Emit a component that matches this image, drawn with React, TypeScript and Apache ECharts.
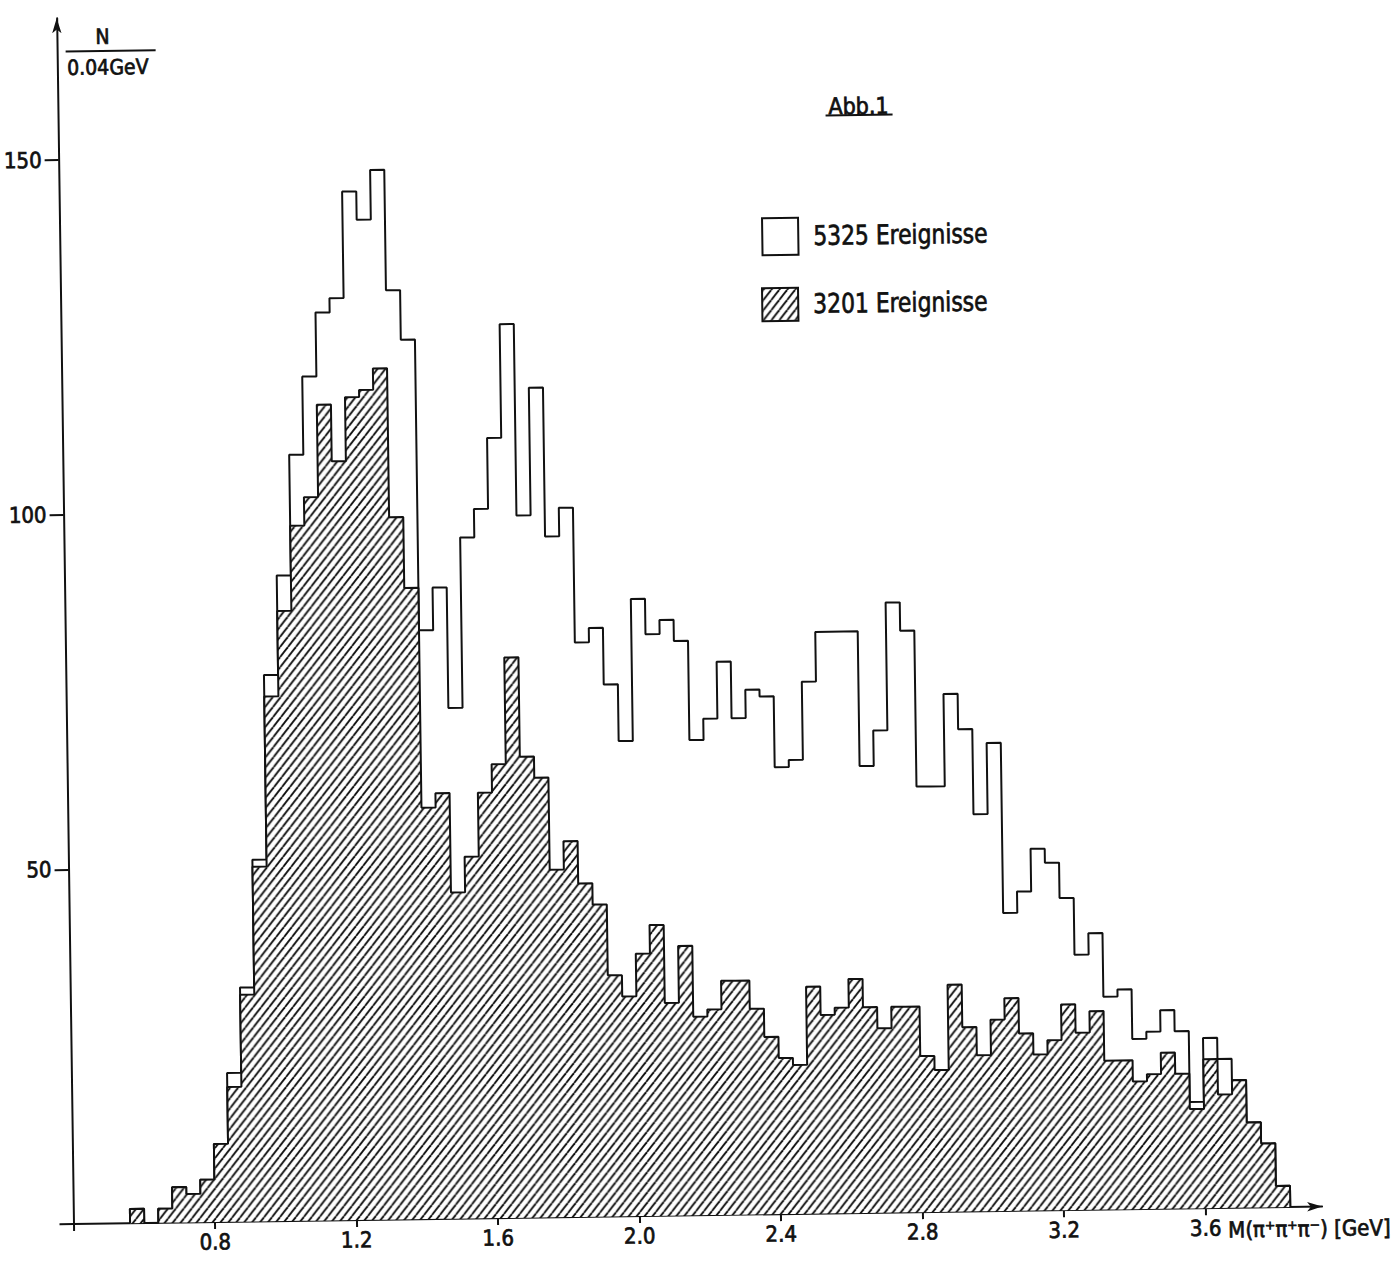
import React, { useEffect, useRef } from "react";
import * as echarts from "echarts";

// Histogram bins: lower edge of first bin and bin width (GeV)
const BIN_START = 0.56;
const BIN_WIDTH = 0.04;

// All events (open histogram, 5325 Ereignisse), counts per 0.04 GeV bin
const totalCounts = [
  2, 0, 2, 5, 4, 6, 11, 21, 33, 51,
  77, 91, 108, 119, 128, 130, 145, 141, 148, 131,
  124, 83, 89, 72, 96, 100, 110, 126, 99, 117,
  96, 100, 81, 83, 75, 67, 87, 82, 84, 81,
  67, 70, 78, 70, 74, 73, 63, 64, 75, 82,
  82, 82, 63, 68, 86, 82, 60, 60, 73, 68,
  56, 66, 42, 45, 51, 49, 44, 36, 39, 30,
  31, 24, 25, 28, 25, 15, 24, 21, 18, 12,
  9, 3,
];

// Selected events (hatched histogram, 3201 Ereignisse)
const subsetCounts = [
  2, 0, 2, 5, 4, 6, 11, 19, 32, 50,
  74, 86, 98, 102, 115, 107, 116, 117, 120, 99,
  89, 58, 60, 46, 51, 60, 64, 79, 65, 62,
  49, 53, 47, 44, 34, 31, 37, 41, 30, 38,
  28, 29, 33, 33, 29, 25, 22, 21, 32, 28,
  29, 33, 29, 26, 29, 29, 22, 20, 32, 26,
  22, 27, 30, 25, 22, 24, 29, 25, 28, 21,
  21, 18, 19, 22, 19, 14, 21, 16, 18, 12,
  9, 3,
];

const xTickValues = [0.4, 0.8, 1.2, 1.6, 2.0, 2.4, 2.8, 3.2, 3.6];
const xLabelValues = [0.8, 1.2, 1.6, 2.0, 2.4, 2.8, 3.2, 3.6];
const yTickValues = [0, 50, 100, 150];
const yLabelValues = [50, 100, 150];
const legendLabels = ["5325 Ereignisse", "3201 Ereignisse"];
const figureLabel = "Abb.1";
const yUnitNumerator = "N";
const yUnitDenominator = "0.04GeV";
const xQuantity = "M(π⁺π⁺π⁻)";
const xUnit = "[GeV]";

const FONT = "'DejaVu Sans Condensed', 'DejaVu Sans', sans-serif";
const INK = "#111";

function toSteps(counts: number[]): number[][] {
  const pts: number[][] = [[BIN_START, 0]];
  counts.forEach((c, i) => {
    pts.push([+(BIN_START + i * BIN_WIDTH).toFixed(4), c]);
  });
  const end = +(BIN_START + counts.length * BIN_WIDTH).toFixed(4);
  pts.push([end, counts[counts.length - 1]]);
  pts.push([end, 0]);
  return pts;
}

function makeHatchCanvas(): HTMLCanvasElement {
  const w = 8;
  const h = 10;
  const c = document.createElement("canvas");
  c.width = w;
  c.height = h;
  const ctx = c.getContext("2d")!;
  ctx.fillStyle = "#fff";
  ctx.fillRect(0, 0, w, h);
  ctx.strokeStyle = "#111";
  ctx.lineWidth = 1.9;
  for (const off of [-w, 0, w]) {
    ctx.beginPath();
    ctx.moveTo(off, h);
    ctx.lineTo(off + w, 0);
    ctx.stroke();
  }
  return c;
}

function textStyle(text: string, size: number, align: string) {
  return {
    text,
    fontSize: size,
    fontFamily: FONT,
    fill: INK,
    stroke: INK,
    lineWidth: 0.7,
    align,
    verticalAlign: "middle",
  };
}

export default function App() {
  const ref = useRef<HTMLDivElement>(null);

  useEffect(() => {
    const el = ref.current;
    if (!el) return;
    const chart = echarts.init(el, undefined, { renderer: "svg" });
    const hatch = makeHatchCanvas();
    const pattern: any = {
      image: hatch,
      repeat: "repeat",
      imageWidth: hatch.width,
      imageHeight: hatch.height,
    };

    const X0 = 73.5; // pixel of x = 0.4
    const Y0 = 1224; // pixel of y = 0
    const PX_PER_GEV = 353.75;
    const PX_PER_COUNT = 7.0933;
    const xMin = 0.4;
    const xMax = 3.93;
    const yMax = 170;

    const axisLineStyle = { color: INK, width: 2 };
    const labelCommon = {
      fontSize: 22,
      fontFamily: FONT,
      color: INK,
      textBorderColor: INK,
      textBorderWidth: 0.7,
    };

    chart.setOption({
      animation: false,
      backgroundColor: "#fff",
      grid: {
        left: X0,
        top: Y0 - yMax * PX_PER_COUNT,
        width: (xMax - xMin) * PX_PER_GEV,
        height: yMax * PX_PER_COUNT,
        containLabel: false,
        outerBoundsMode: "none",
      },
      xAxis: {
        type: "value",
        min: xMin,
        max: xMax,
        interval: 0.4,
        axisLine: {
          show: true,
          onZero: false,
          lineStyle: axisLineStyle,
          symbol: ["none", "arrow"],
          symbolSize: [7, 15],
        },
        axisTick: {
          show: true,
          length: 7,
          customValues: xTickValues,
          lineStyle: axisLineStyle,
        },
        axisLabel: {
          show: true,
          customValues: xLabelValues,
          formatter: (v: number) => v.toFixed(1),
          margin: 9,
          ...labelCommon,
        },
        splitLine: { show: false },
      },
      yAxis: {
        type: "value",
        min: 0,
        max: yMax,
        interval: 50,
        axisLine: {
          show: true,
          onZero: false,
          lineStyle: axisLineStyle,
          symbol: ["none", "arrow"],
          symbolSize: [7, 15],
        },
        axisTick: {
          show: true,
          length: 14,
          customValues: yTickValues,
          lineStyle: axisLineStyle,
        },
        axisLabel: {
          show: true,
          customValues: yLabelValues,
          formatter: (v: number) => String(v),
          margin: 17,
          ...labelCommon,
        },
        splitLine: { show: false },
      },
      series: [
        {
          type: "line",
          name: legendLabels[0],
          step: "end",
          data: toSteps(totalCounts),
          symbol: "none",
          lineStyle: { color: INK, width: 2 },
          z: 2,
        },
        {
          type: "line",
          name: legendLabels[1],
          step: "end",
          data: toSteps(subsetCounts),
          symbol: "none",
          lineStyle: { color: INK, width: 2 },
          areaStyle: { color: pattern, opacity: 1, origin: "start" },
          z: 3,
        },
      ],
      graphic: [
        { type: "text", x: 119, y: 37.5, style: textStyle(yUnitNumerator, 21, "center") },
        {
          type: "line",
          shape: { x1: 82, y1: 51.5, x2: 172, y2: 51.5 },
          style: { stroke: INK, lineWidth: 2 },
        },
        { type: "text", x: 124, y: 68, style: textStyle(yUnitDenominator, 21, "center") },
        { type: "text", x: 874, y: 117, style: textStyle(figureLabel, 23, "center") },
        {
          type: "line",
          shape: { x1: 841, y1: 126, x2: 908, y2: 126 },
          style: { stroke: INK, lineWidth: 2 },
        },
        {
          type: "rect",
          shape: { x: 776, y: 228, width: 36, height: 37 },
          style: { fill: "#fff", stroke: INK, lineWidth: 2 },
        },
        {
          type: "text",
          x: 827,
          y: 246,
          scaleX: 0.9,
          style: textStyle(legendLabels[0], 27, "left"),
        },
        {
          type: "rect",
          shape: { x: 775, y: 298, width: 36, height: 33 },
          style: { fill: pattern, stroke: INK, lineWidth: 2 },
        },
        {
          type: "text",
          x: 826,
          y: 314,
          scaleX: 0.9,
          style: textStyle(legendLabels[1], 27, "left"),
        },
        { type: "text", x: 1228, y: 1246, style: textStyle(xQuantity, 22, "left") },
        { type: "text", x: 1334, y: 1246, style: textStyle(xUnit, 22, "left") },
      ],
    });

    return () => {
      chart.dispose();
    };
  }, []);

  return (
    <div
      style={{
        position: "absolute",
        left: 0,
        top: 0,
        width: 1400,
        height: 1261,
        background: "#fff",
        transform: "rotate(-0.8deg)",
        transformOrigin: "73.5px 1224px",
      }}
    >
      <div ref={ref} style={{ width: 1400, height: 1261 }} />
    </div>
  );
}
